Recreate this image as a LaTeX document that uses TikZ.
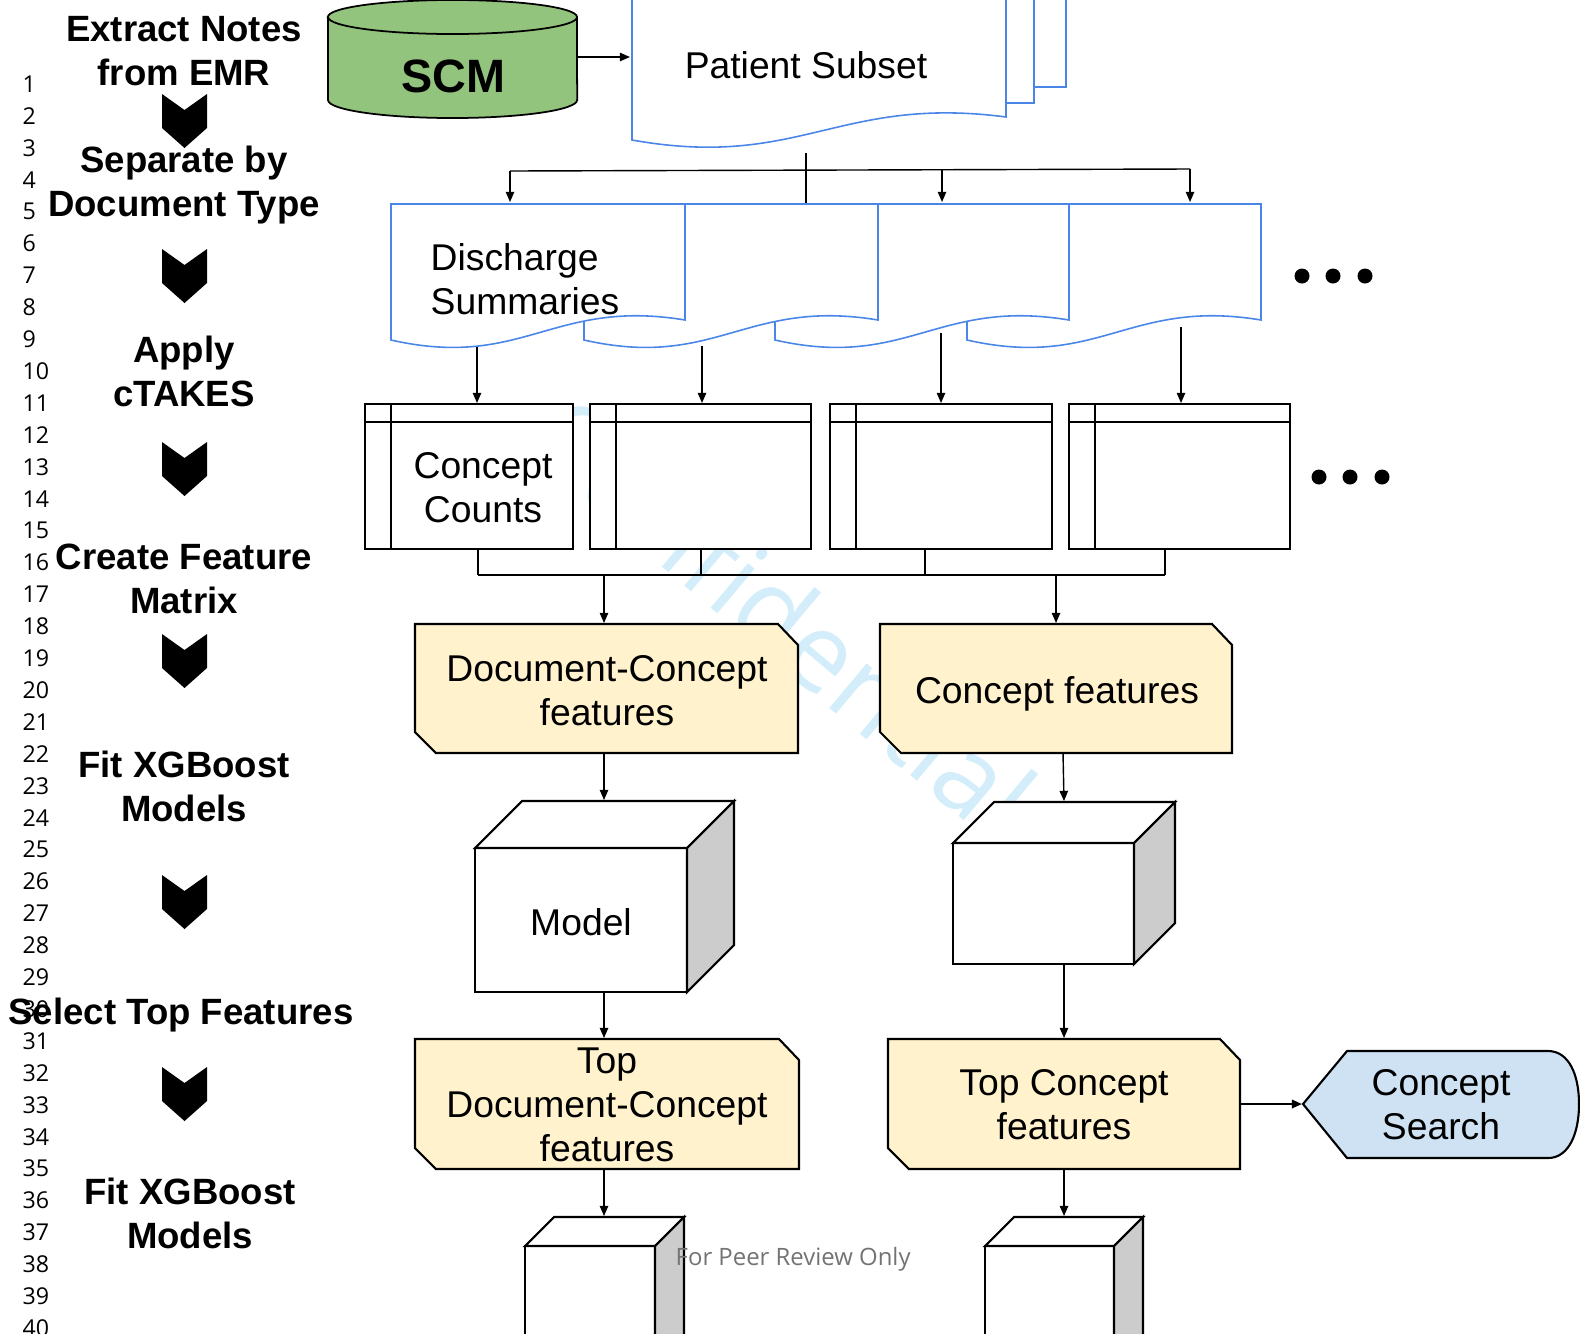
\documentclass[tikz,border=0pt]{standalone}
\usepackage{fontspec}
\setmainfont{Liberation Sans}
\newfontfamily\numfont{Open Sans}
\usetikzlibrary{arrows.meta}
\definecolor{DocBlue}{HTML}{4A86E8}
\definecolor{ScmGreen}{HTML}{93C47D}
\definecolor{FeatYellow}{HTML}{FFF2CC}
\definecolor{SearchBlue}{HTML}{CFE2F3}
\definecolor{SideGray}{HTML}{CCCCCC}
\definecolor{MarkBlue}{HTML}{D3EEFA}

% shapes drawn from their corners (pixel units)
\newcommand{\docpage}[2]{\draw[docline] (#1,204) -- (#1+#2,204) -- (#1+#2,320) .. controls (#1+0.55*#2,298) and (#1+0.45*#2,370) .. (#1,340) -- cycle;}
\newcommand{\cpttable}[2]{\draw[tabline, fill=white] (#1,404) rectangle (#2,549); \draw[tabline] (#1,422) -- (#2,422) (#1+26,404) -- (#1+26,549);}
\newcommand{\featbox}[4]{\draw[tabline, fill=FeatYellow] (#1,#2) -- (#3-20,#2) -- (#3,#2+21) -- (#3,#4) -- (#1+21,#4) -- (#1,#4-21) -- cycle;}
\newcommand{\modelcube}[5]{\draw[tabline, fill=white] (#1,#2+#5) rectangle (#3-#5,#4);
  \draw[tabline, fill=white] (#1,#2+#5) -- (#1+#5,#2) -- (#3,#2) -- (#3-#5,#2+#5) -- cycle;
  \draw[tabline, fill=SideGray] (#3-#5,#2+#5) -- (#3,#2) -- (#3,#4-#5) -- (#3-#5,#4) -- cycle;}

\begin{document}
\begin{tikzpicture}[x=0.01cm, y=-0.01cm, every node/.style={inner sep=0pt}, lbl/.style={align=center, font=\fontsize{10.6}{12.5}\selectfont}, steplbl/.style={align=center, font=\bfseries\fontsize{10.4}{12.5}\selectfont}, lnum/.style={anchor=west, font=\numfont\fontsize{6.6}{8}\selectfont}, docline/.style={draw=DocBlue, line width=0.45pt, fill=white}, tabline/.style={draw=black, line width=0.6pt}, wire/.style={line width=0.4pt}, arrow/.style={-{Triangle[length=2.9pt,width=2.4pt]}, line width=0.4pt}, dot/.style={circle, fill=black, minimum size=0.15cm}]
\useasboundingbox (0,0) rectangle (1580,1333);
\clip (0,0) rectangle (1580,1333);
\node[rotate=-40, text=MarkBlue, font=\numfont\fontsize{31}{31}\selectfont] (mark) at (783,615) {Confidential};
\foreach \n in {1,...,40} \node[lnum] (ln\n) at (22,{84+(\n-1)*31.9}) {\n};

% pipeline steps
\node[steplbl] (s1) at (184,51) {Extract Notes\\from EMR};
\node[steplbl] (s2) at (184,185) {Separate by\\Document Type};
\node[steplbl] (s3) at (184,371) {Apply\\cTAKES};
\node[steplbl] (s4) at (184,579) {Create Feature\\Matrix};
\node[steplbl] (s5) at (184,786) {Fit XGBoost\\Models};
\node[steplbl] (s6) at (181,1015) {Select Top Features};
\node[steplbl] (s7) at (190,1213) {Fit XGBoost\\Models};
\foreach \y in {94,249,442,634,875,1067} \fill (162,\y) -- (184.5,\y+16) -- (207,\y) -- (207,\y+34) -- (184.5,\y+54) -- (162,\y+34) -- cycle;

% source and patient subset
\draw[fill=ScmGreen, line width=0.5pt] (328,17) -- (328,100) arc[start angle=180, end angle=360, x radius=1.245cm, y radius=0.18cm] -- (577,17) arc[start angle=0, end angle=180, x radius=1.245cm, y radius=0.17cm] -- cycle;
\draw[line width=0.5pt] (328,17) arc[start angle=180, end angle=360, x radius=1.245cm, y radius=0.17cm];
\node[font=\bfseries\fontsize{13.3}{15}\selectfont] (scm) at (453,76) {SCM};
\draw[docline] (700,-20) rectangle (1066,87);
\draw[docline] (666,-20) rectangle (1034,103);
\draw[docline] (632,-20) -- (1006,-20) -- (1006,117) .. controls (838,95) and (800,170) .. (632,140) -- cycle;
\node[lbl] (ps) at (806,65) {Patient Subset};

% document types
\foreach \dx in {967,775,584,391} {\docpage{\dx}{294}}
\node[lbl, align=left, anchor=west] (ds) at (430,279) {Discharge\\Summaries};
\foreach \n/\x in {1/1302,2/1333,3/1365} \node[dot] (da\n) at (\x,276) {};

% concept count tables
\cpttable{365}{573} \cpttable{590}{811} \cpttable{830}{1052} \cpttable{1069}{1290}
\node[lbl] (cc) at (483,488) {Concept\\Counts};
\foreach \n/\x in {1/1319,2/1350,3/1382} \node[dot] (db\n) at (\x,477) {};

% feature boxes and models
\featbox{415}{624}{798}{753} \featbox{880}{624}{1232}{753}
\node[lbl] (dcf) at (607,691) {Document-Concept\\features};
\node[lbl] (cf) at (1057,694) {Concept features};
\modelcube{475}{801}{734}{992}{47} \modelcube{953}{802}{1175}{964}{41}
\node[lbl] (mdl) at (581,922) {Model};
\featbox{415}{1039}{799}{1169} \featbox{888}{1039}{1240}{1169}
\node[lbl] (tdcf) at (607,1105) {Top\\Document-Concept\\features};
\node[lbl] (tcf) at (1064,1105) {Top Concept\\features};
\draw[tabline, fill=SearchBlue] (1303,1104) -- (1347,1051) -- (1548,1051) .. controls (1569,1051) and (1579,1075) .. (1579,1104) .. controls (1579,1133) and (1569,1158) .. (1548,1158) -- (1347,1158) -- cycle;
\node[lbl] (cs) at (1441,1105) {Concept\\Search};
\modelcube{525}{1217}{684}{1420}{29} \modelcube{985}{1217}{1143}{1420}{29}
\node[anchor=west, text=black!55, font=\numfont\fontsize{6.8}{8}\selectfont] (peer) at (675,1259) {For Peer Review Only};

% connector ends
\coordinate (scm-r) at (577,57); \coordinate (ps-l) at (630,57);
\coordinate (ps-b) at (806,153); \coordinate (ps-j) at (806,203);
\coordinate (bus-l) at (510,171); \coordinate (bus-m) at (942,170); \coordinate (bus-r) at (1190,169);
\coordinate (doc1-t) at (510,202); \coordinate (doc3-t) at (942,202); \coordinate (doc4-t) at (1190,202);
\coordinate (jn-l) at (478,575); \coordinate (jn-r) at (1165,575);
\coordinate (jn-a) at (604,575); \coordinate (jn-b) at (1056,575);
\coordinate (dcf-t) at (604,623); \coordinate (cf-t) at (1056,623);
\coordinate (dcf-b) at (604,753); \coordinate (cf-b) at (1063,753);
\coordinate (mdl-t) at (604,800); \coordinate (cb2-t) at (1064,801);
\coordinate (mdl-b) at (604,992); \coordinate (cb2-b) at (1064,964);
\coordinate (tdcf-t) at (604,1038); \coordinate (tcf-t) at (1064,1038);
\coordinate (tdcf-b) at (604,1169); \coordinate (tcf-b) at (1064,1169);
\coordinate (cb3-t) at (604,1216); \coordinate (cb4-t) at (1064,1216);
\coordinate (tcf-r) at (1240,1104); \coordinate (cs-l) at (1302,1104);

\draw[arrow] (scm-r) -- (ps-l);
\draw[wire] (ps-b) -- (ps-j); \draw[wire] (bus-l) -- (bus-r);
\draw[arrow] (bus-l) -- (doc1-t); \draw[arrow] (bus-m) -- (doc3-t); \draw[arrow] (bus-r) -- (doc4-t);
\foreach \n/\x/\y in {1/477/347,2/702/346,3/941/333,4/1181/327} {\coordinate (dsb\n) at (\x,\y); \coordinate (ctt\n) at (\x,403); \draw[arrow] (dsb\n) -- (ctt\n);}
\foreach \n/\x in {1/478,2/701,3/925,4/1165} {\coordinate (ctb\n) at (\x,549); \coordinate (jn\n) at (\x,575); \draw[wire] (ctb\n) -- (jn\n);}
\draw[wire] (jn-l) -- (jn-r);
\draw[arrow] (jn-a) -- (dcf-t); \draw[arrow] (jn-b) -- (cf-t);
\draw[arrow] (dcf-b) -- (mdl-t); \draw[arrow] (cf-b) -- (cb2-t);
\draw[arrow] (mdl-b) -- (tdcf-t); \draw[arrow] (cb2-b) -- (tcf-t);
\draw[arrow] (tdcf-b) -- (cb3-t); \draw[arrow] (tcf-b) -- (cb4-t);
\draw[arrow, line width=0.6pt] (tcf-r) -- (cs-l);
\end{tikzpicture}
\end{document}
